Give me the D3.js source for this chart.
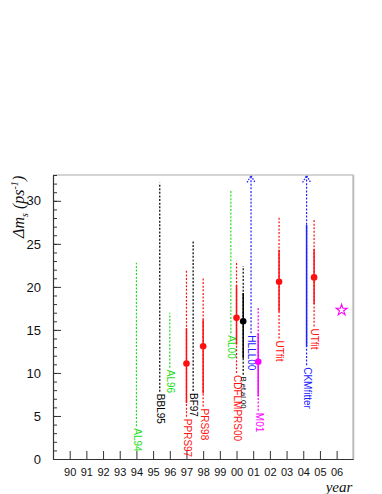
<!DOCTYPE html>
<html><head><meta charset="utf-8">
<script src="https://cdn.jsdelivr.net/npm/d3@7"></script>
<style>
html,body{margin:0;padding:0;background:#fff;}
svg{display:block;}
</style></head>
<body>
<svg id="chart" width="382" height="494"></svg>
<script>
// ---------------- data ----------------
const labels   = ["AL94","BBL95","AL96","PPRS97","BF97","PRS98","AL00","CDFLMPRS00","B.et.al.00","HLLL00","M01","UTfit","CKMfitter","UTfit"];
const years    = [94.0, 95.4, 96.0, 97.0, 97.4, 98.0, 99.66, 100.0, 100.4, 100.87, 101.3, 102.55, 104.2, 104.65];
const central  = [null, null, null, 11.1, null, 13.1, null, 16.4, 16.0, null, 11.3, 20.6, null, 21.1];
const solidLo  = [null, null, null, 6.5, null, 7.6, null, 13.3, 11.7, null, 7.3, 17.1, 13.1, 18.0];
const solidHi  = [null, null, null, 15.2, null, 16.2, null, 20.2, 19.3, null, 14.6, 24.3, 27.2, 24.4];
const dottedLo = [3.8, 7.8, 10.6, 4.9, 7.9, 6.1, 14.6, 10.0, 9.8, 14.6, 5.6, 14.0, 10.9, 15.4];
const dottedHi = [22.8, 32.1, 17.0, 21.9, 25.3, 21.0, 31.2, 23.0, 22.4, null, 17.6, 28.2, null, 27.8];
const groups   = ["ALEPH","other","ALEPH","lattice","other","lattice","ALEPH","lattice","other","fit","M","UTfit","fit","UTfit"];
const starYear = [106.3];
const starVal  = [17.3];
const xTickYears = d3.range(90, 107);
const yMajor = [0,5,10,15,20,25,30];
const yMinor = d3.range(0, 34, 1);

// ---------------- styles ----------------
const colorOf = {ALEPH:"#22dd22", other:"#000000", lattice:"#ff1010", fit:"#2020ff", M:"#ff00ff", UTfit:"#ff1010"};
const labelSize = {"B.et.al.00":7.5};

const svg = d3.select("#chart");
const x = d3.scaleLinear().domain([89,107]).range([53,353.3]);
const y = d3.scaleLinear().domain([0,33]).range([459,175]);
const yTop = 33;

// frame
svg.append("line").attr("x1",x(89)).attr("x2",x(107)).attr("y1",y(33)).attr("y2",y(33)).attr("stroke","#aaa").attr("stroke-width",1.2);
svg.append("line").attr("x1",x(107)).attr("x2",x(107)).attr("y1",y(33)).attr("y2",y(0)).attr("stroke","#bbb").attr("stroke-width",2);

// x axis
const xAxis = d3.axisBottom(x).tickValues(xTickYears)
  .tickFormat(d => String(d%100).padStart(2,"0"))
  .tickSizeInner(-8).tickSizeOuter(0).tickPadding(9);
const gx = svg.append("g").attr("transform",`translate(0,${y(0)})`).call(xAxis);
gx.select(".domain").attr("stroke","#333").attr("stroke-width",1.2);
gx.selectAll(".tick line").attr("stroke","#333");
gx.selectAll("text").attr("font-family","Liberation Sans, Arial, sans-serif").attr("font-size",11).attr("fill","#111");

// y axis minor
const gyMinor = svg.append("g").attr("transform",`translate(${x(89)},0)`)
  .call(d3.axisLeft(y).tickValues(yMinor).tickSizeInner(-4).tickSizeOuter(0).tickFormat(""));
gyMinor.select(".domain").remove();
gyMinor.selectAll(".tick line").attr("stroke","#333");
// y axis major
const gy = svg.append("g").attr("transform",`translate(${x(89)},0)`)
  .call(d3.axisLeft(y).tickValues(yMajor).tickSizeInner(-8).tickSizeOuter(0).tickPadding(12));
gy.select(".domain").attr("stroke","#333").attr("stroke-width",1.2);
gy.selectAll(".tick line").attr("stroke","#333");
gy.selectAll("text").attr("font-family","Liberation Sans, Arial, sans-serif").attr("font-size",13).attr("fill","#111");

// axis titles
const yl = svg.append("text")
  .attr("transform",`translate(24,${y(29.3)}) rotate(-90)`)
  .attr("text-anchor","middle")
  .attr("font-family","Liberation Serif, Times New Roman, serif")
  .attr("font-style","italic").attr("font-size",16).attr("fill","#111");
yl.append("tspan").text("Δm");
yl.append("tspan").attr("font-size",10).attr("dy",4).text("s");
yl.append("tspan").attr("dy",-4).text(" (ps");
yl.append("tspan").attr("font-size",10).attr("dy",-6).text("-1");
yl.append("tspan").attr("dy",6).text(")");

svg.append("text").attr("x",x(107)-1).attr("y",492).attr("text-anchor","end")
  .attr("font-family","Liberation Serif, Times New Roman, serif")
  .attr("font-style","italic").attr("font-size",15).attr("fill","#111").text("year");

// measurements
const g = svg.append("g");
labels.forEach((lab,i) => {
  const c = colorOf[groups[i]];
  const xx = x(years[i]);
  const hi = dottedHi[i] === null ? yTop : dottedHi[i];
  g.append("line").attr("x1",xx).attr("x2",xx).attr("y1",y(dottedLo[i])).attr("y2",y(hi))
    .attr("stroke",c).attr("stroke-width",1.2).attr("stroke-dasharray","2,1.6");
  if (dottedHi[i] === null) {
    const ty = y(yTop)+0.5;
    g.append("path").attr("d",`M${xx-4},${ty+7}L${xx},${ty}L${xx+4},${ty+7}`)
      .attr("fill","none").attr("stroke",c).attr("stroke-width",1.2).attr("stroke-dasharray","1.6,1.2");
  }
  if (solidLo[i] !== null) {
    g.append("line").attr("x1",xx).attr("x2",xx).attr("y1",y(solidLo[i])).attr("y2",y(solidHi[i]))
      .attr("stroke",c).attr("stroke-width",1.5);
  }
  if (central[i] !== null) {
    g.append("circle").attr("cx",xx).attr("cy",y(central[i])).attr("r",3.3).attr("fill",c);
  }
  g.append("text")
    .attr("transform",`translate(${xx},${y(dottedLo[i])+2}) rotate(90)`)
    .attr("dominant-baseline","middle")
    .attr("font-family","Liberation Sans, Arial, sans-serif")
    .attr("font-size",labelSize[lab] || 10).attr("fill",c).text(lab);
});

// star
const star = d3.symbol().type(d3.symbolStar).size(38);
starYear.forEach((s,i) => {
  svg.append("path").attr("d",star()).attr("transform",`translate(${x(s)},${y(starVal[i])})`)
    .attr("fill","none").attr("stroke","#ff00ff").attr("stroke-width",1.1);
});
</script>
</body></html>
